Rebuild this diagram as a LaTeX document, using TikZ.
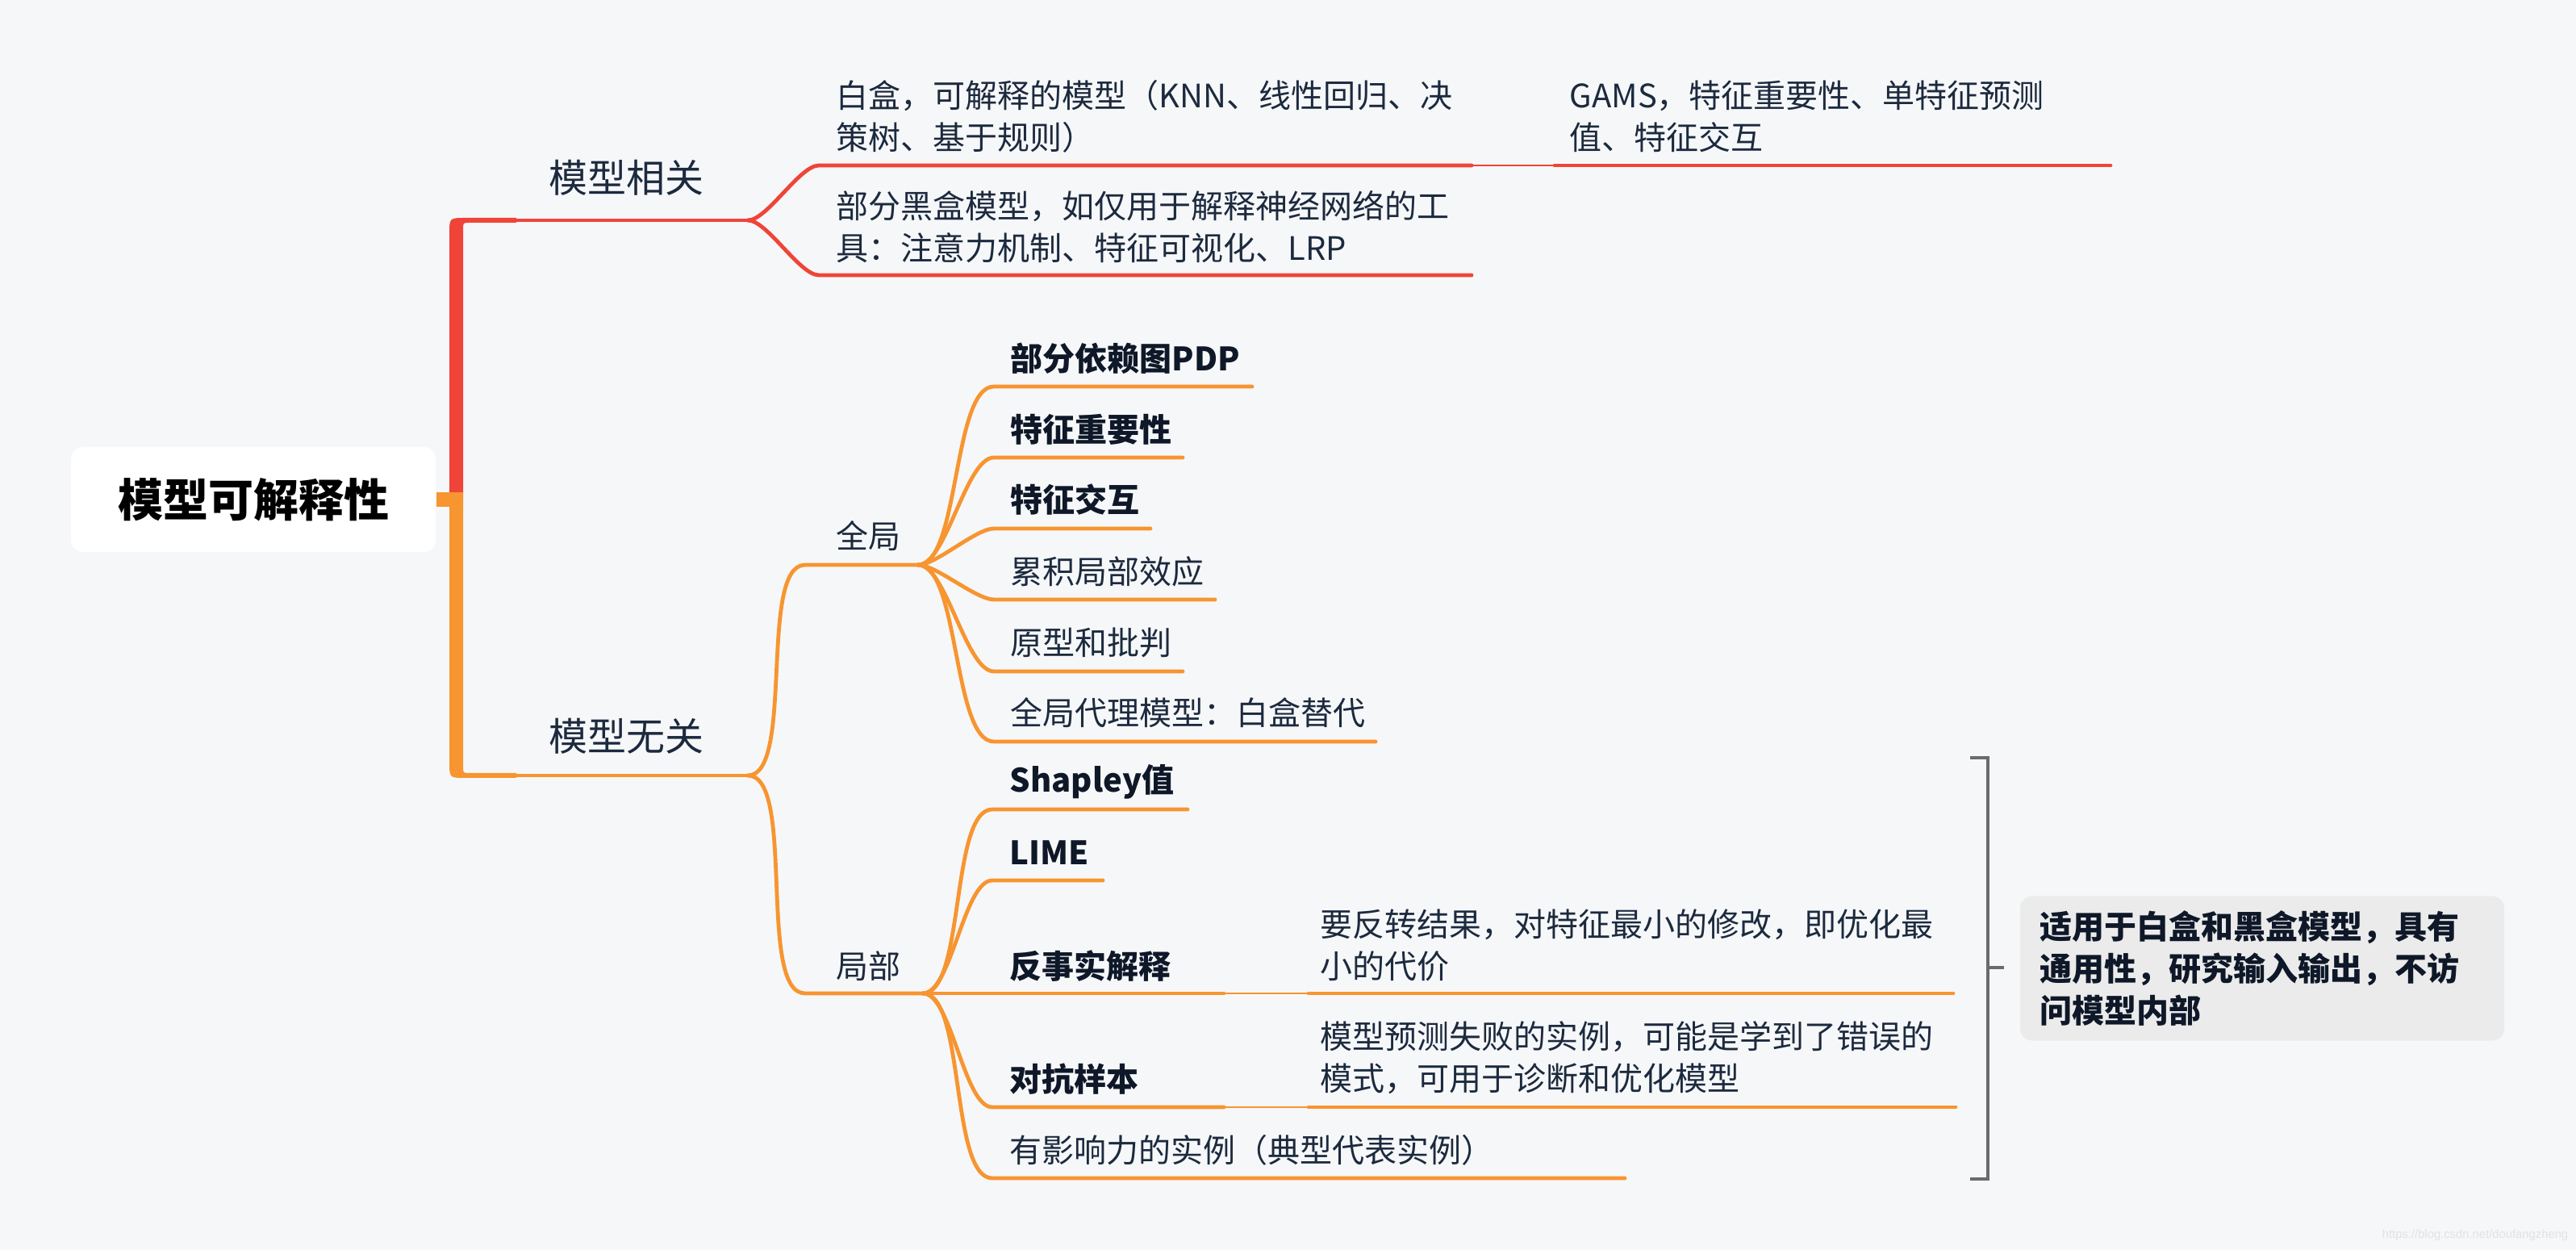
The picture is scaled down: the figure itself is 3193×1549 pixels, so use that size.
\documentclass[tikz,border=0pt]{standalone}
\usepackage{fontspec}
\setmainfont{Noto Sans CJK SC}
\newfontfamily\wmfont{Liberation Sans}
\definecolor{bgcol}{HTML}{F6F7F9}
\definecolor{mred}{HTML}{F04438}
\definecolor{morange}{HTML}{F79530}
\definecolor{txtcol}{HTML}{1C2A3E}
\definecolor{boldcol}{HTML}{0E1828}
\definecolor{notefill}{HTML}{EBEBEB}
\definecolor{brk}{HTML}{6B6B6B}
\definecolor{wmcol}{HTML}{E1E2E5}
\begin{document}
\begin{tikzpicture}[x=0.25pt,y=-0.25pt,
  txt/.style={anchor=west,inner sep=0pt,text=txtcol,align=left,font=\fontsize{10}{13}\selectfont},
  btxt/.style={anchor=west,inner sep=0pt,text=boldcol,align=left,font=\fontsize{10}{13}\selectfont\bfseries},
  lvl/.style={inner sep=0pt,text=txtcol,font=\fontsize{12}{15}\selectfont},
  rootbox/.style={fill=white,rounded corners=3.75pt,minimum width=113pt,minimum height=32.5pt,inner sep=0pt,text=black,font=\fontsize{14}{16}\selectfont\bfseries},
  notebox/.style={fill=notefill,rounded corners=3.75pt,minimum width=150pt,minimum height=44.75pt,inner sep=0pt},
  redline/.style={draw=mred,line width=1.2pt,line cap=round},
  orline/.style={draw=morange,line width=1.2pt,line cap=round},
  thinred/.style={draw=mred,line width=0.7pt},
  thinor/.style={draw=morange,line width=0.7pt},
  branch/.style={out=0,in=180,looseness=0.55},
  brline/.style={draw=brk,line width=1pt}]
\useasboundingbox (0,0) rectangle (3193,1549);
\fill[bgcol] (0,0) rectangle (3193,1549);

% root
\node[rootbox] (root) at (314,619) {模型可解释性};

% trunk bars
\fill[mred] (557,619) -- (557,290) .. controls (557,270) .. (577,270) -- (640,270) -- (640,276) -- (582,276) .. controls (574,276) .. (574,284) -- (574,619) -- cycle;
\fill[morange] (557,619) -- (557,944) .. controls (557,964) .. (577,964) -- (640,964) -- (640,958) -- (582,958) .. controls (574,958) .. (574,950) -- (574,619) -- cycle;
\fill[morange] (root.east |- 0,610) rectangle (574,628);

% level 1
\node[lvl] (mr) at (776,220) {模型相关};
\node[lvl] (mw) at (776,912) {模型无关};
\coordinate (mrA) at (640,273); \coordinate (mrB) at (927,273);
\coordinate (mwA) at (640,961); \coordinate (mwB) at (927,961);
\draw[redline] (mrA) -- (mrB);
\draw[orline] (mwA) -- (mwB);

% children of 模型相关
\node[txt] (c1) at (1036,144) {白盒，可解释的模型（KNN、线性回归、决\\策树、基于规则）};
\node[txt] (c1g) at (1945,144) {GAMS，特征重要性、单特征预测\\值、特征交互};
\node[txt] (c2) at (1036,281) {部分黑盒模型，如仅用于解释神经网络的工\\具：注意力机制、特征可视化、LRP};
\coordinate (c1A) at (1015,205); \coordinate (c1B) at (1824,205);
\coordinate (c1gA) at (1927,205); \coordinate (c1gB) at (2616,205);
\coordinate (c2A) at (1015,341); \coordinate (c2B) at (1824,341);
\draw[redline] (mrB) to[branch] (c1A) -- (c1B);
\draw[thinred] (c1B) -- (c1gA);
\draw[redline] (c1gA) -- (c1gB);
\draw[redline] (mrB) to[branch] (c2A) -- (c2B);

% 全局 / 局部
\node[txt] (qj) at (1036,664) {全局};
\node[txt] (jb) at (1036,1197) {局部};
\coordinate (qjA) at (998,700); \coordinate (qjB) at (1138,700);
\coordinate (jbA) at (998,1231); \coordinate (jbB) at (1144,1231);
\draw[orline] (mwB) to[branch] (qjA) -- (qjB);
\draw[orline] (mwB) to[branch] (jbA) -- (jbB);

% children of 全局
\node[btxt] (g1) at (1252,444) {部分依赖图PDP};
\node[btxt] (g2) at (1252,532) {特征重要性};
\node[btxt] (g3) at (1252,619) {特征交互};
\node[txt] (g4) at (1252,708) {累积局部效应};
\node[txt] (g5) at (1252,796) {原型和批判};
\node[txt] (g6) at (1252,883) {全局代理模型：白盒替代};
\coordinate (g1A) at (1232,479); \coordinate (g1B) at (1552,479);
\coordinate (g2A) at (1232,567); \coordinate (g2B) at (1466,567);
\coordinate (g3A) at (1232,655); \coordinate (g3B) at (1426,655);
\coordinate (g4A) at (1232,743); \coordinate (g4B) at (1506,743);
\coordinate (g5A) at (1232,832); \coordinate (g5B) at (1466,832);
\coordinate (g6A) at (1232,919); \coordinate (g6B) at (1705,919);
\foreach \k in {1,...,6} {\draw[orline] (qjB) to[branch] (g\k A) -- (g\k B);}

% children of 局部
\node[btxt] (l1) at (1251,969) {Shapley值};
\node[btxt] (l2) at (1251,1057) {LIME};
\node[btxt] (l3) at (1251,1197) {反事实解释};
\node[btxt] (l4) at (1251,1337) {对抗样本};
\node[txt] (l5) at (1251,1425) {有影响力的实例（典型代表实例）};
\coordinate (l1A) at (1230,1003); \coordinate (l1B) at (1472,1003);
\coordinate (l2A) at (1230,1091); \coordinate (l2B) at (1367,1091);
\coordinate (l3A) at (1230,1231); \coordinate (l3B) at (1517,1231);
\coordinate (l4A) at (1230,1372); \coordinate (l4B) at (1517,1372);
\coordinate (l5A) at (1230,1460); \coordinate (l5B) at (2014,1460);
\foreach \k in {1,...,5} {\draw[orline] (jbB) to[branch] (l\k A) -- (l\k B);}

\node[txt] (d3) at (1636,1171) {要反转结果，对特征最小的修改，即优化最\\小的代价};
\node[txt] (d4) at (1636,1311) {模型预测失败的实例，可能是学到了错误的\\模式，可用于诊断和优化模型};
\coordinate (d3A) at (1622,1231); \coordinate (d3B) at (2421,1231);
\coordinate (d4A) at (1622,1372); \coordinate (d4B) at (2424,1372);
\draw[thinor] (l3B) -- (d3A);
\draw[orline] (d3A) -- (d3B);
\draw[thinor] (l4B) -- (d4A);
\draw[orline] (d4A) -- (d4B);

% summary bracket and note
\coordinate (bT) at (2442,939); \coordinate (bTc) at (2464,939);
\coordinate (bB) at (2442,1461); \coordinate (bBc) at (2464,1461);
\coordinate (bM) at (2464,1199); \coordinate (bMe) at (2484,1199);
\draw[brline] (bT) -- (bTc) -- (bBc) -- (bB);
\draw[brline] (bM) -- (bMe);
\node[notebox] (note) at (2804,1200) {};
\node[btxt] (notetxt) at (2528,1200) {适用于白盒和黑盒模型，具有\\通用性，研究输入输出，不访\\问模型内部};

% watermark
\node[anchor=east,inner sep=0pt,text=wmcol,font=\wmfont\fontsize{3.7}{4}\selectfont] (wm) at (3184,1531) {https://blog.csdn.net/doufangzheng};
\end{tikzpicture}
\end{document}
